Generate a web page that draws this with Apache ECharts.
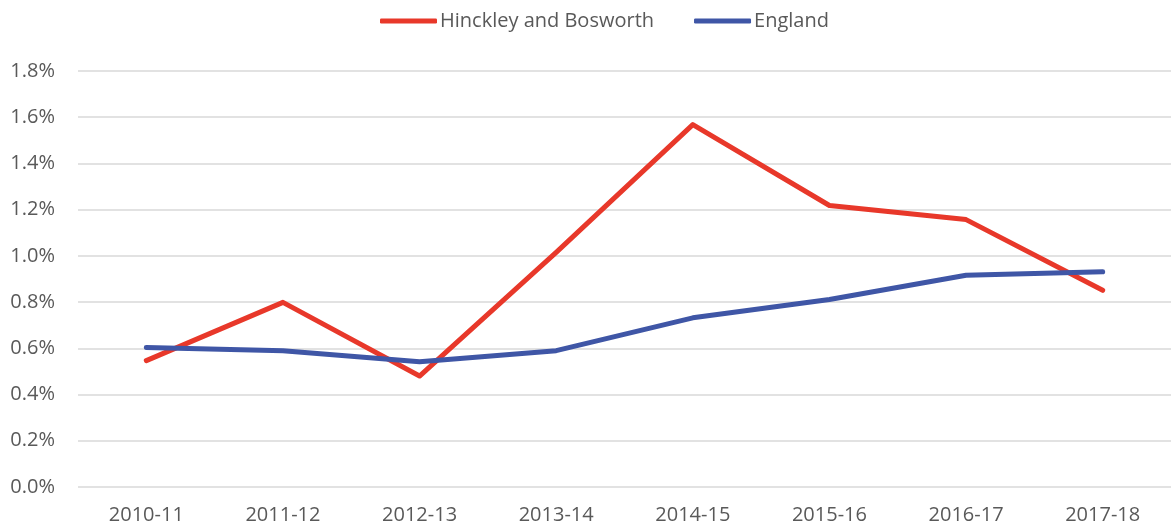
<!DOCTYPE html>
<html>
<head>
<meta charset="utf-8">
<script src="https://cdn.jsdelivr.net/npm/echarts@6/dist/echarts.min.js"></script>
<style>
    html, body { margin: 0; padding: 0; background: #fff; }
    #line1 { width: 1171px; height: 530px; }
</style>
</head>
<body>
<div id="line1"></div>
<script>
// categories and values (percent)
var years = ['2010-11', '2011-12', '2012-13', '2013-14', '2014-15', '2015-16', '2016-17', '2017-18']
var hinckley = [0.547, 0.799, 0.48, 1.015, 1.568, 1.218, 1.157, 0.851]
var england = [0.604, 0.59, 0.542, 0.59, 0.732, 0.811, 0.916, 0.931]

var textColor = '#595959'
var fontName = 'Open Sans'

var myChart = echarts.init(document.getElementById('line1'))
var option = {
    color: ['#E8382A', '#3F56A6'],
    animation: false,
    legend: {
        top: 6,
        left: 375,
        itemWidth: 57,
        itemHeight: 5,
        itemGap: 40,
        icon: 'roundRect',
        textStyle: {
            color: textColor,
            fontFamily: fontName,
            fontSize: 20,
            padding: [0, 0, 0, -2]
        },
        data: ['Hinckley and Bosworth', 'England']
    },
    grid: {
        left: 78,
        right: 0,
        top: 71,
        bottom: 43,
        containLabel: false
    },
    xAxis: {
        type: 'category',
        data: years,
        boundaryGap: true,
        axisTick: { show: false },
        axisLine: { show: false },
        axisLabel: {
            color: textColor,
            fontFamily: fontName,
            fontSize: 20,
            margin: 18
        }
    },
    yAxis: {
        type: 'value',
        min: 0,
        max: 1.8,
        interval: 0.2,
        axisLine: { show: false },
        axisTick: { show: false },
        axisLabel: {
            color: textColor,
            fontFamily: fontName,
            fontSize: 20,
            margin: 23,
            formatter: function (v) { return v.toFixed(1) + '%' }
        },
        // 网格线
        splitLine: {
            lineStyle: { color: '#D9D9D9', width: 1.5 }
        }
    },
    series: [
        {
            name: 'Hinckley and Bosworth',
            type: 'line',
            data: hinckley,
            showSymbol: false,
            symbol: 'none',
            lineStyle: { width: 5, cap: 'round', join: 'round' }
        },
        {
            name: 'England',
            type: 'line',
            data: england,
            showSymbol: false,
            symbol: 'none',
            lineStyle: { width: 5, cap: 'round', join: 'round' }
        }
    ]
}
myChart.setOption(option)
window.onresize = myChart.resize
</script>
</body>
</html>
